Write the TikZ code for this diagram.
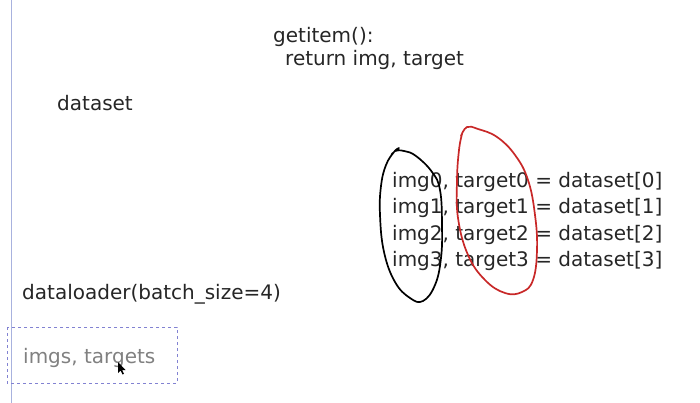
\documentclass[tikz,border=0pt]{standalone}
\usepackage{fontspec}
\setmainfont{DejaVu Sans}
\definecolor{marginblue}{RGB}{168,178,222}
\definecolor{boxblue}{RGB}{130,130,210}
\definecolor{penred}{RGB}{200,40,40}
\begin{document}
\begin{tikzpicture}[x=1pt,y=-1pt,
  ink/.style={text=black!85, font=\fontsize{20}{24}\selectfont, inner sep=0pt, anchor=base west},
  faint/.style={ink, text=black!50},
  loop/.style={line width=1.7pt, line cap=round, line join=round}]
  \useasboundingbox (0,0) rectangle (700,403);
  % page margin rule
  \draw[marginblue, line width=1.2pt] (11.5,0) -- (11.5,403);

  \node[ink] (getitem) at (273,43) {getitem():};
  \node[ink] (ret) at (285,66) {return img, target};
  \node[ink] (ds) at (57,111) {dataset};

  \node[ink] (l0) at (392,188) {img0, target0 = dataset[0]};
  \node[ink] (l1) at (392,214) {img1, target1 = dataset[1]};
  \node[ink] (l2) at (392,240) {img2, target2 = dataset[2]};
  \node[ink] (l3) at (392,266) {img3, target3 = dataset[3]};

  \node[ink] (dl) at (22,299) {dataloader(batch\_size=4)};

  % selected text box
  \draw[dashed, boxblue, line width=0.9pt] (7,327) rectangle (177,383);
  \node[faint] (out) at (23,363) {imgs, targets};
  % mouse pointer
  \fill[black] (118,362) -- (118,373) -- (120.5,370.5) -- (122.5,374.5) -- (124,373.8) -- (122,370) -- (125.5,370) -- cycle;

  % black loop around the images
  \draw[loop, black] plot[smooth, tension=0.7] coordinates {
    (391,156) (395,151) (404,151) (416,156) (432,172) (440,190) (442,225)
    (441,258) (435,285) (423,301) (410,298) (395,282) (384,252) (380,215)
    (381,186) (386,165) (394,152) (399,148)};
  % red loop around the targets
  \draw[loop, penred] plot[smooth, tension=0.7] coordinates {
    (461,136) (467,127) (478,129) (497,137) (515,155) (528,180) (535,215)
    (537,250) (533,280) (522,292) (505,293) (485,280) (468,255) (458,218)
    (457,180) (459,150) (462,134)};
\end{tikzpicture}
\end{document}
